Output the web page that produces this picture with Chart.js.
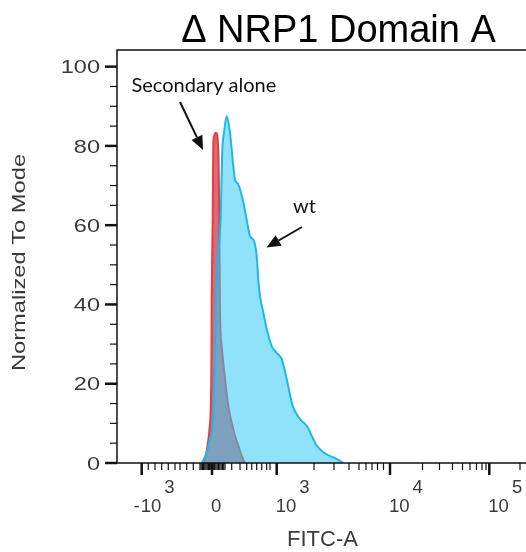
<!DOCTYPE html>
<html>
<head>
<meta charset="utf-8">
<script src="https://cdn.jsdelivr.net/npm/chart.js@4/dist/chart.umd.min.js"></script>
<style>
  html, body { margin: 0; padding: 0; background: #fff; }
  canvas { display: block; }
</style>
</head>
<body>
<canvas id="histo" width="526" height="552"></canvas>
<script>
// x = FITC-A display channel (biex axis), y = % of mode
const wtX  = [84.7, 89.7, 93, 96.3, 98, 99.7, 103.7, 105.3, 107, 109.7, 113, 114.7, 116.3, 118, 121.3,
              125.7, 129, 133, 137, 139.7, 141.3, 143, 146.3, 149.7, 154.7, 159.7, 164.7, 169.7, 175.7,
              183, 189.7, 194.7, 199.7, 206.3, 219.7, 226.3];
const wtY  = [0, 2.6, 6, 12.8, 29.5, 46.3, 62.3, 79, 83.3, 87.5, 83.3, 79.1, 74.9, 71.5, 70.3,
              66.5, 62.3, 57.3, 56, 52.2, 46.3, 42.1, 38, 33.8, 29.5, 27.8, 26.2, 21.2, 14.4,
              11.1, 9.4, 6.9, 4.4, 2.7, 1, 0];

const secX = [87, 90, 92.5, 94.3, 94.7, 95.7, 96.3, 99, 101.3, 102.3, 103, 104.7, 108, 111.3, 114.7,
              118, 121.3, 124.7, 128];
const secY = [0, 3.5, 8.6, 21.2, 41.3, 61.5, 80.8, 83.3, 79.1, 61.5, 38, 29.5, 21.2, 14.4, 10.2,
              6.9, 4.4, 1.8, 0];

// axis ticks (channels for -10^3, 0, 10^3, 10^4, 10^5)
const xMajorTicks  = [24.7, 95, 159.7, 273, 372.3];
const xMajorLabels = [['-10', '3'], ['0', ''], ['10', '3'], ['10', '4'], ['10', '5']];
const xMinorTicks  = [31.3, 38, 44.7, 51.3, 58, 63, 69.7, 76.3, 83,
                      84.2, 85.4, 86.6, 87.8, 89, 90.2, 91.4, 92.6, 93.8,
                      96.3, 97.6, 98.9, 100.2, 101.5, 102.8, 104.1, 105.4, 106.7,
                      108, 114.7, 123, 129.7, 134.7, 139.7, 144.7, 149.7, 153,
                      197, 217, 232, 242, 249, 255, 260.5, 266.5,
                      305.5, 322.5, 335.5, 345.5, 353, 359.5, 365, 369, 403];
const yMajorTicks  = [0, 20, 40, 60, 80, 100];
const yMinorTicks  = [5, 10, 15, 25, 30, 35, 45, 50, 55, 65, 70, 75, 85, 90, 95];

const TXT = '#3a3a3a';
const SANS = "'Liberation Sans', Arial, sans-serif";

function wideText(ctx, str, x, y, sx, align) {
  ctx.save();
  ctx.translate(x, y);
  ctx.scale(sx, 1);
  ctx.textAlign = align;
  ctx.fillText(str, 0, 0);
  ctx.restore();
}

function arrow(ctx, x0, y0, x1, y1) {
  const ang = Math.atan2(y1 - y0, x1 - x0);
  const len = 14, half = 6;
  const bx = x1 - len * Math.cos(ang), by = y1 - len * Math.sin(ang);
  ctx.beginPath();
  ctx.moveTo(x0, y0);
  ctx.lineTo(bx, by);
  ctx.stroke();
  ctx.beginPath();
  ctx.moveTo(x1, y1);
  ctx.lineTo(bx + half * Math.sin(ang), by - half * Math.cos(ang));
  ctx.lineTo(bx - half * Math.sin(ang), by + half * Math.cos(ang));
  ctx.closePath();
  ctx.fill();
}

const flowAxes = {
  id: 'flowAxes',
  afterDatasetsDraw(chart) {
    const { ctx, chartArea: a, scales: { x, y } } = chart;
    ctx.save();

    /* ── frame ── */
    ctx.strokeStyle = '#111';
    ctx.lineWidth = 1.5;
    ctx.beginPath();
    ctx.moveTo(a.right, a.top);
    ctx.lineTo(a.left, a.top);
    ctx.lineTo(a.left, a.bottom);
    ctx.lineTo(a.right, a.bottom);
    ctx.stroke();

    /* ── y ticks ── */
    ctx.lineWidth = 1.2;
    yMinorTicks.forEach(v => {
      const py = y.getPixelForValue(v);
      ctx.beginPath(); ctx.moveTo(a.left - 7, py); ctx.lineTo(a.left, py); ctx.stroke();
    });
    ctx.lineWidth = 2.5;
    ctx.fillStyle = TXT;
    ctx.font = '18.5px ' + SANS;
    yMajorTicks.forEach(v => {
      const py = y.getPixelForValue(v);
      ctx.beginPath(); ctx.moveTo(a.left - 12, py); ctx.lineTo(a.left, py); ctx.stroke();
      wideText(ctx, String(v), a.left - 17, py + 6.6, 1.27, 'right');
    });

    /* ── x ticks ── */
    ctx.lineWidth = 1.2;
    xMinorTicks.forEach(c => {
      const px = x.getPixelForValue(c);
      ctx.beginPath(); ctx.moveTo(px, a.bottom); ctx.lineTo(px, a.bottom + 7); ctx.stroke();
    });
    ctx.lineWidth = 2.5;
    ctx.textAlign = 'left';
    xMajorTicks.forEach((c, i) => {
      const px = x.getPixelForValue(c);
      ctx.beginPath(); ctx.moveTo(px, a.bottom); ctx.lineTo(px, a.bottom + 12); ctx.stroke();
      let [base, exp] = xMajorLabels[i];
      const yb = a.bottom + 48.5;
      if (base.startsWith('-')) {
        ctx.textAlign = 'right';
        ctx.fillText('-', px - 2, yb);
        ctx.textAlign = 'left';
        base = base.slice(1);
      }
      ctx.fillText(base, px - 1, yb);
      if (exp) ctx.fillText(exp, px - 1 + ctx.measureText(base).width + 3, yb - 18.5);
    });

    /* ── axis titles ── */
    ctx.font = '22px ' + SANS;
    ctx.textAlign = 'center';
    ctx.fillText('FITC-A', 322.5, 546);

    ctx.save();
    ctx.font = '18.5px ' + SANS;
    ctx.translate(25, 262.5);
    ctx.rotate(-Math.PI / 2);
    ctx.scale(1.28, 1);
    ctx.textAlign = 'center';
    ctx.fillText('Normalized To Mode', 0, 0);
    ctx.restore();

    /* ── title ── */
    ctx.fillStyle = '#000';
    ctx.font = '38px ' + SANS;
    ctx.textAlign = 'center';
    ctx.fillText('\u0394 NRP1 Domain A', 338.5, 42);

    /* ── annotations ── */
    ctx.fillStyle = '#111';
    ctx.strokeStyle = '#111';
    ctx.lineWidth = 2;
    ctx.font = "20px Lato, 'Open Sans', sans-serif";
    ctx.textAlign = 'left';
    ctx.fillText('Secondary alone', 131.5, 91.5);
    ctx.fillText('wt', 293, 213);
    arrow(ctx, 180, 102, 203, 150);
    arrow(ctx, 302, 227, 266.5, 247.5);

    ctx.restore();
  },
};

new Chart(document.getElementById('histo'), {
  type: 'line',
  data: {
    datasets: [
      {
        label: 'wt',
        data: wtX.map((c, i) => ({ x: c, y: wtY[i] })),
        borderColor: '#1db8ea',
        backgroundColor: 'rgba(51,202,244,0.55)',
        borderWidth: 2,
        fill: 'origin',
        pointRadius: 0,
        cubicInterpolationMode: 'monotone',
        order: 0,
      },
      {
        label: 'Secondary alone',
        data: secX.map((c, i) => ({ x: c, y: secY[i] })),
        borderColor: '#ee3b3b',
        backgroundColor: 'rgb(215,109,124)',
        borderWidth: 2,
        fill: 'origin',
        pointRadius: 0,
        cubicInterpolationMode: 'monotone',
        order: 1,
      },
    ],
  },
  options: {
    responsive: false,
    animation: false,
    devicePixelRatio: 1,
    layout: { padding: { left: 117, top: 50, right: 0, bottom: 89 } },
    scales: {
      x: { type: 'linear', display: false, min: 0, max: 409 },
      y: { display: false, min: 0, max: 104.2 },
    },
    plugins: { legend: { display: false }, tooltip: { enabled: false } },
  },
  plugins: [flowAxes],
});
</script>
</body>
</html>
